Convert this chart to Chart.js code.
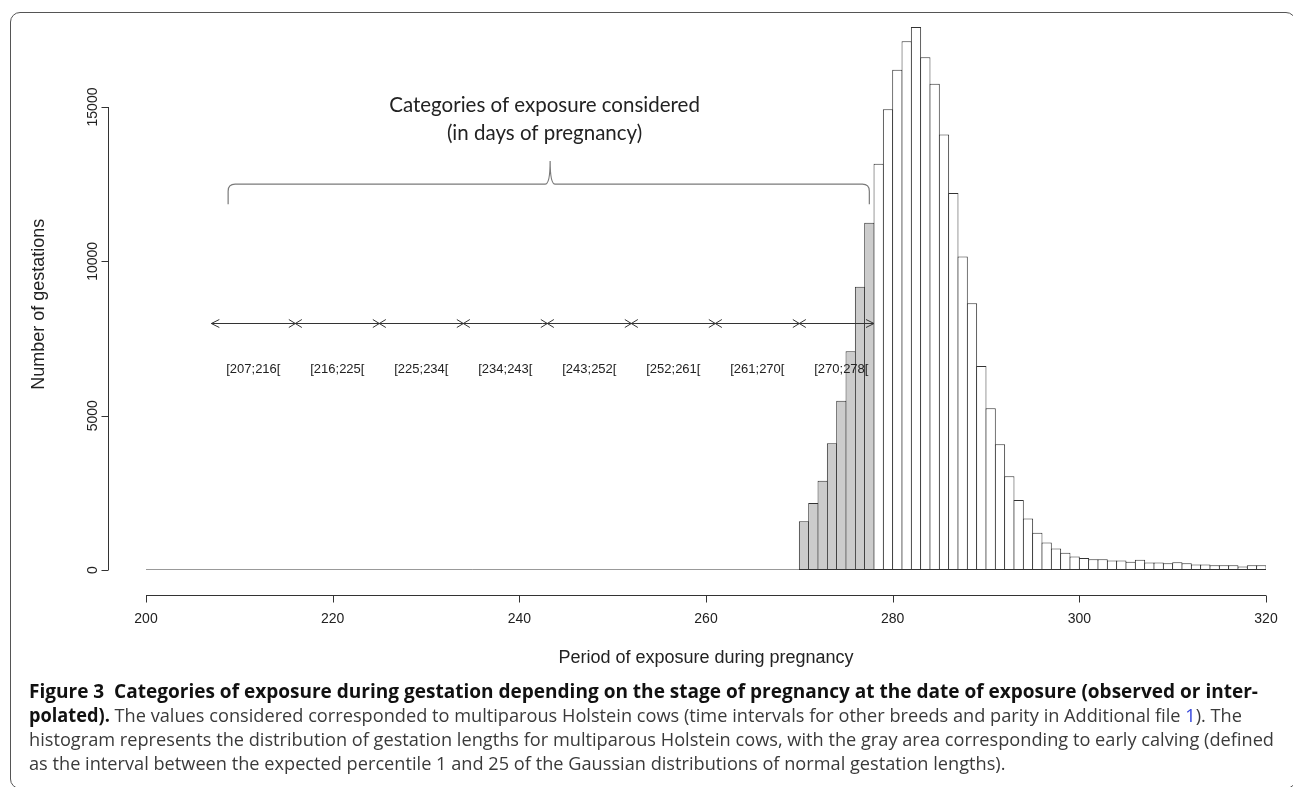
<!DOCTYPE html>
<html>
<head>
<meta charset="utf-8">
<script src="https://cdn.jsdelivr.net/npm/chart.js@4.4.1/dist/chart.umd.min.js"></script>
<style>
  body { margin: 0; width: 1293px; height: 787px; overflow: hidden; background: #fff; position: relative; }
  #frame { position: absolute; left: 10px; top: 12px; width: 1286px; height: 777px; border: 1px solid #555; border-radius: 10px; box-sizing: border-box; }
  #wrap { position: absolute; left: 0; top: 0; width: 1293px; height: 680px; }
  .cap { position: absolute; left: 29px; white-space: pre; font-family: "Open Sans", sans-serif; font-size: 19px; line-height: 24px; color: #3a3a3a; transform-origin: 0 50%; }
  .cap b { color: #111; font-weight: 700; }
  .cap .lnk { color: #3344dd; }
</style>
</head>
<body>
<div id="frame"></div>
<div id="wrap"><canvas id="chart" width="1293" height="680"></canvas></div>
<div class="cap" id="l1" style="top:679px"><b>Figure 3  Categories of exposure during gestation depending on the stage of pregnancy at the date of exposure (observed or inter-</b></div>
<div class="cap" id="l2" style="top:703px"><b>polated).</b> The values considered corresponded to multiparous Holstein cows (time intervals for other breeds and parity in Additional file <span class="lnk">1</span>). The</div>
<div class="cap" id="l3" style="top:727px">histogram represents the distribution of gestation lengths for multiparous Holstein cows, with the gray area corresponding to early calving (defined</div>
<div class="cap" id="l4" style="top:751px">as the interval between the expected percentile 1 and 25 of the Gaussian distributions of normal gestation lengths).</div>
<script>
// histogram bins (day the bin starts) and counts
const days = [270, 271, 272, 273, 274, 275, 276, 277, 278, 279,
              280, 281, 282, 283, 284, 285, 286, 287, 288, 289,
              290, 291, 292, 293, 294, 295, 296, 297, 298, 299,
              300, 301, 302, 303, 304, 305, 306, 307, 308, 309,
              310, 311, 312, 313, 314, 315, 316, 317, 318, 319];
const counts = [1580, 2170, 2890, 4110, 5480, 7090, 9180, 11250, 13160, 14930,
                16210, 17130, 17590, 16610, 15750, 14110, 12210, 10160, 8640, 6610,
                5240, 4070, 3040, 2270, 1670, 1210, 890, 700, 560, 440,
                390, 350, 350, 310, 310, 270, 330, 240, 240, 220,
                250, 220, 180, 180, 150, 150, 150, 110, 150, 150];
const emptyRange = [200, 270];      // bins with no gestations
const earlyCalving = [270, 278];    // gray area

const xTicks = [200, 220, 240, 260, 280, 300, 320];
const yTicks = [0, 5000, 10000, 15000];
const xTitle = 'Period of exposure during pregnancy';
const yTitle = 'Number of gestations';

const periodStarts = [207, 216, 225, 234, 243, 252, 261, 270];
const periodEnds = [216, 225, 234, 243, 252, 261, 270, 278];
const periodLabels = ['[207;216[', '[216;225[', '[225;234[', '[234;243[', '[243;252[', '[252;261[', '[261;270[', '[270;278['];
const braceText = ['Categories of exposure considered', '(in days of pregnancy)'];

// annotations drawn on top of the plot, R style axes
const rPlot = {
  id: 'rPlot',
  afterDraw(chart) {
    const ctx = chart.ctx;
    const x = chart.scales.x, y = chart.scales.y;
    const X = v => x.getPixelForValue(v);
    const Y = v => y.getPixelForValue(v);
    const crisp = p => Math.round(p) + 0.5;
    ctx.save();
    ctx.strokeStyle = '#333';
    ctx.fillStyle = '#222';
    ctx.lineWidth = 1;

    // x axis
    const axY = crisp(Y(0) + 25);
    ctx.beginPath();
    ctx.moveTo(X(xTicks[0]), axY);
    ctx.lineTo(X(xTicks[xTicks.length - 1]), axY);
    xTicks.forEach(v => { ctx.moveTo(crisp(X(v)), axY); ctx.lineTo(crisp(X(v)), axY + 7); });
    ctx.stroke();
    ctx.font = '14px "Liberation Sans", Arial, sans-serif';
    ctx.textAlign = 'center';
    ctx.textBaseline = 'middle';
    xTicks.forEach(v => ctx.fillText(String(v), X(v), axY + 24));
    ctx.font = '18px "Liberation Sans", Arial, sans-serif';
    ctx.fillText(xTitle, (X(xTicks[0]) + X(xTicks[xTicks.length - 1])) / 2, axY + 63);

    // y axis
    const axX = crisp(X(xTicks[0]) - 38);
    ctx.beginPath();
    ctx.moveTo(axX, Y(yTicks[0]));
    ctx.lineTo(axX, Y(yTicks[yTicks.length - 1]));
    yTicks.forEach(v => { ctx.moveTo(axX, crisp(Y(v))); ctx.lineTo(axX - 7, crisp(Y(v))); });
    ctx.stroke();
    ctx.font = '14px "Liberation Sans", Arial, sans-serif';
    yTicks.forEach(v => {
      ctx.save();
      ctx.translate(axX - 15, Y(v));
      ctx.rotate(-Math.PI / 2);
      ctx.fillText(String(v), 0, 0);
      ctx.restore();
    });
    ctx.save();
    ctx.font = '18px "Liberation Sans", Arial, sans-serif';
    ctx.translate(axX - 69, (Y(0) + 24 + chart.chartArea.top) / 2);
    ctx.rotate(-Math.PI / 2);
    ctx.fillText(yTitle, 0, 0);
    ctx.restore();

    // double arrow with category limits
    const ay = crisp(Y(8000));
    const a0 = X(periodStarts[0]), a1 = X(periodEnds[periodEnds.length - 1]);
    ctx.beginPath();
    ctx.moveTo(a0, ay); ctx.lineTo(a1, ay);
    ctx.moveTo(a0 + 8, ay - 4); ctx.lineTo(a0, ay); ctx.lineTo(a0 + 8, ay + 4);
    ctx.moveTo(a1 - 8, ay - 4); ctx.lineTo(a1, ay); ctx.lineTo(a1 - 8, ay + 4);
    periodStarts.slice(1).forEach(v => {
      const px = X(v);
      ctx.moveTo(px - 6.5, ay - 4); ctx.lineTo(px + 6.5, ay + 4);
      ctx.moveTo(px - 6.5, ay + 4); ctx.lineTo(px + 6.5, ay - 4);
    });
    ctx.stroke();
    ctx.font = '13px "Liberation Sans", Arial, sans-serif';
    periodLabels.forEach((t, i) => ctx.fillText(t, X(periodStarts[i] + 4.5), Y(6500)));

    // curly brace over the categories
    const L = X(208.8), R = X(277.5), M = X(243.3);
    const yLow = Y(11850), yBar = Y(12500), yTip = Y(13250);
    const r = 7, r2 = 5;
    ctx.strokeStyle = '#7a7a7a';
    ctx.lineWidth = 1.2;
    ctx.beginPath();
    ctx.moveTo(L, yLow);
    ctx.lineTo(L, yBar + r);
    ctx.quadraticCurveTo(L, yBar, L + r, yBar);
    ctx.lineTo(M - r2, yBar);
    ctx.quadraticCurveTo(M, yBar, M, yTip);
    ctx.quadraticCurveTo(M, yBar, M + r2, yBar);
    ctx.lineTo(R - r, yBar);
    ctx.quadraticCurveTo(R, yBar, R, yBar + r);
    ctx.lineTo(R, yLow);
    ctx.stroke();
    ctx.fillStyle = '#222';
    ctx.font = '20.5px Lato, "Open Sans", sans-serif';
    ctx.fillText(braceText[0], X(242.7), Y(15060));
    ctx.fillText(braceText[1], X(242.7), Y(14150));
    ctx.restore();
  }
};

new Chart(document.getElementById('chart'), {
  type: 'bar',
  data: {
    datasets: [{
      type: 'bar',
      data: days.map((d, i) => ({ x: d + 0.5, y: counts[i] })),
      backgroundColor: days.map(d => (d >= earlyCalving[0] && d < earlyCalving[1]) ? '#cccccc' : '#ffffff'),
      borderColor: '#333',
      borderWidth: 1,
      borderSkipped: false,
      barPercentage: 1.1,
      categoryPercentage: 1,
      grouped: false
    }, {
      type: 'line',
      data: emptyRange.map(d => ({ x: d, y: 0 })),
      borderColor: '#333',
      borderWidth: 1,
      pointRadius: 0
    }]
  },
  options: {
    responsive: false,
    animation: false,
    devicePixelRatio: 1,
    layout: { padding: { left: 146, right: 27, top: 14.4, bottom: 110 } },
    plugins: { legend: { display: false }, tooltip: { enabled: false } },
    scales: {
      x: { type: 'linear', min: 200, max: 320, offset: false, display: false },
      y: { min: 0, max: 18000, display: false }
    }
  },
  plugins: [rPlot]
});

// squeeze caption lines to the widths of the justified original
const lineEnds = [1258, 1242, 1274];
const scales = [];
['l1', 'l2', 'l3'].forEach((id, i) => {
  const el = document.getElementById(id);
  const s = (lineEnds[i] - 29) / el.getBoundingClientRect().width;
  scales.push(s);
  el.style.transform = 'scaleX(' + s + ')';
});
document.getElementById('l4').style.transform = 'scaleX(' + ((scales[1] + scales[2]) / 2) + ')';
</script>
</body>
</html>
